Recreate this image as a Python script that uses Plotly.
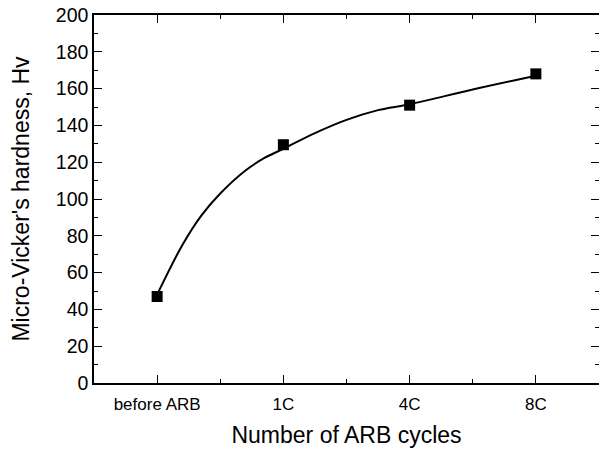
import plotly.graph_objects as go

# Categories and measured hardness (markers)
categories = ["before ARB", "1C", "4C", "8C"]
cat_pos = [0, 1, 2, 3]
hardness = [47, 129.5, 151, 168]

# Smooth fitted curve
curve_x = [0.0, 0.2, 0.35, 0.5, 0.7, 0.85, 1.0, 1.25, 1.5, 1.75, 2.0, 2.5, 3.0]
curve_y = [48.0, 75.0, 91.0, 103.0, 115.5, 122.3, 127.3, 135.8, 143.0, 148.3, 151.5, 159.5, 167.0]

y_ticks = [0, 20, 40, 60, 80, 100, 120, 140, 160, 180, 200]

font_family = "Liberation Sans, Arial, sans-serif"

fig = go.Figure()
fig.add_trace(go.Scatter(
    x=curve_x, y=curve_y, mode="lines",
    line=dict(color="black", width=2, shape="spline", smoothing=1.0),
    hoverinfo="skip", showlegend=False,
))
fig.add_trace(go.Scatter(
    x=cat_pos, y=hardness, mode="markers",
    marker=dict(symbol="square", size=11, color="black"),
    showlegend=False,
))

fig.update_layout(
    width=599, height=453, autosize=False,
    margin=dict(l=94, r=0, t=15, b=70, autoexpand=False),
    paper_bgcolor="white", plot_bgcolor="white",
    font=dict(family=font_family, color="black"),
    xaxis=dict(
        range=[-0.5, 3.5],
        tickmode="array", tickvals=cat_pos, ticktext=categories,
        ticks="inside", ticklen=8, tickwidth=1, tickcolor="black",
        minor=dict(tickvals=[0.5, 1.5, 2.5], ticks="inside", ticklen=4, tickcolor="black", tickwidth=1),
        showline=True, linecolor="black", linewidth=1.5, mirror="allticks",
        showgrid=False, zeroline=False,
        ticklabelstandoff=5,
        tickfont=dict(size=17, family=font_family),
        title=dict(text="Number of ARB cycles", font=dict(size=23, family=font_family), standoff=14),
    ),
    yaxis=dict(
        range=[0, 200],
        tickmode="array", tickvals=y_ticks,
        ticks="inside", ticklen=8, tickwidth=1, tickcolor="black",
        minor=dict(dtick=10, ticks="inside", ticklen=4, tickcolor="black", tickwidth=1),
        showline=True, linecolor="black", linewidth=1.5, mirror="allticks",
        showgrid=False, zeroline=False,
        tickfont=dict(size=19.5, family=font_family),
        title=dict(text="Micro-Vicker's hardness, Hv", font=dict(size=23, family=font_family), standoff=20),
    ),
)

fig.write_html(
    "out.html",
    config={"responsive": False, "displayModeBar": False},
    post_script="document.body.style.margin='0';document.body.style.overflow='hidden';",
)
